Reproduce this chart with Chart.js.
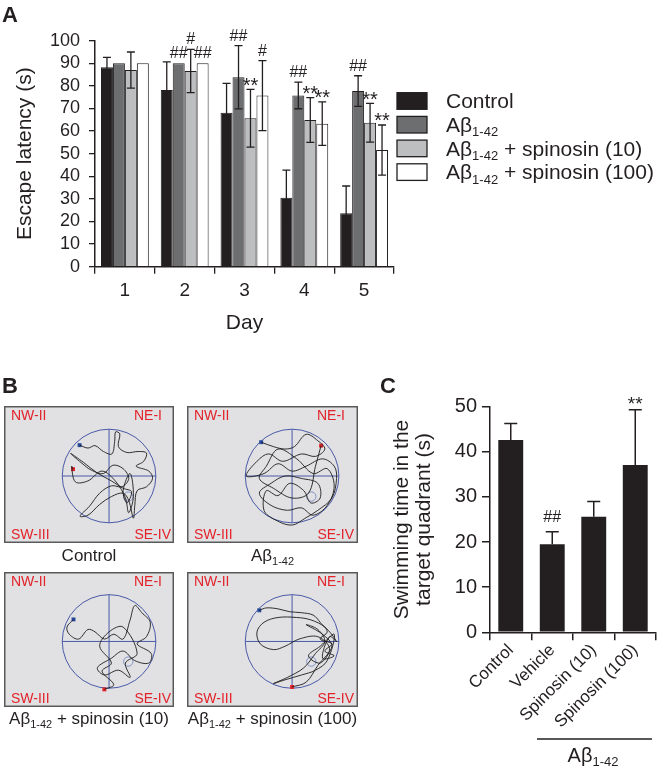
<!DOCTYPE html>
<html>
<head>
<meta charset="utf-8">
<script src="https://cdn.jsdelivr.net/npm/chart.js@4/dist/chart.umd.min.js"></script>
<style>
  body { margin: 0; background: #fff; width: 657px; height: 769px; position: relative; overflow: hidden; }
  canvas { position: absolute; display: block; }
</style>
</head>
<body>
<canvas id="chartA" width="657" height="340" style="left:0;top:0"></canvas>
<canvas id="pool0" width="178" height="198" style="left:0;top:370px"></canvas>
<canvas id="pool1" width="179" height="198" style="left:183px;top:370px"></canvas>
<canvas id="pool2" width="178" height="165" style="left:0;top:568px"></canvas>
<canvas id="pool3" width="179" height="165" style="left:183px;top:568px"></canvas>
<canvas id="chartC" width="327" height="399" style="left:330px;top:370px"></canvas>
<script>
// ========== DATA ==========
const days = ['1', '2', '3', '4', '5'];
const groupNames = ['Control', 'Aβ1-42', 'Aβ1-42 + spinosin (10)', 'Aβ1-42 + spinosin (100)'];

// panel A - escape latency (s), mean and error
const latControl = [88.2, 78.2, 68.1, 30.5, 23.6];
const latAbeta = [90, 90, 83.8, 75.8, 77.7];
const latSpin10 = [87.0, 86.6, 65.7, 64.9, 63.7];
const latSpin100 = [90, 90, 75.7, 63.3, 51.6];
const errControl = [4.4, 12.4, 13.0, 12.2, 12.1];
const errAbeta = [0, 0, 14.0, 5.9, 6.8];
const errSpin10 = [8.0, 9.6, 12.8, 9.9, 8.6];
const errSpin100 = [0, 0, 15.5, 9.6, 11.1];
const marksControl = ['', '', '', '', ''];
const marksAbeta = ['', '##', '##', '##', '##'];
const marksSpin10 = ['', '#', '**', '**', '**'];
const marksSpin100 = ['', '##', '#', '**', '**'];

// panel C - swimming time in target quadrant (s)
const quadGroups = ['Control', 'Vehicle', 'Spinosin (10)', 'Spinosin (100)'];
const quadTime = [42.6, 19.5, 25.6, 37.1];
const quadErr = [3.7, 2.8, 3.4, 12.2];
const quadMarks = ['', '##', '', '**'];

// panel B - swim paths, pool radius = 1
const trackControl = [[-0.63,0.63],[-0.45,0.57],[-0.3,0.62],[-0.12,0.5],[0.06,0.45],[0.12,0.7],[0.14,0.9],[0.23,0.86],[0.2,0.6],[0.38,0.48],[0.62,0.5],[0.8,0.47],[0.74,0.3],[0.58,0.2],[0.85,0.1],[0.93,-0.05],[0.8,-0.22],[0.6,-0.3],[0.55,-0.6],[0.52,-0.86],[0.42,-0.5],[0.3,-0.35],[0.05,-0.42],[-0.2,-0.58],[-0.45,-0.8],[-0.62,-0.82],[-0.42,-0.62],[-0.2,-0.35],[0.05,-0.2],[0.28,-0.22],[0.42,-0.05],[0.3,0.15],[0.08,0.22],[-0.12,0.05],[-0.38,0.12],[-0.58,0.26],[-0.82,0.46],[-0.55,0.28],[-0.25,0.06],[0.05,-0.1],[0.3,-0.25],[0.48,-0.32],[0.38,-0.55],[0.3,-0.3],[0.45,0.05],[0.52,-0.42],[0.42,-0.75],[0.35,-0.45],[0.15,-0.12],[-0.15,0.1],[-0.45,-0.1],[-0.72,-0.12],[-0.8,0.2],[-0.77,0.14]];
const trackAbeta = [[-0.66,0.69],[-0.4,0.6],[-0.15,0.55],[0.05,0.6],[0.3,0.85],[0.55,0.72],[0.7,0.55],[0.5,0.4],[0.2,0.45],[-0.2,0.3],[-0.5,0.45],[-0.75,0.3],[-0.98,0.0],[-0.6,0.05],[-0.3,0.25],[0.0,0.1],[0.3,0.2],[0.65,0.35],[0.9,0.2],[0.95,-0.05],[0.85,-0.45],[0.55,-0.7],[0.3,-0.85],[0.0,-1.0],[-0.35,-0.9],[-0.6,-0.7],[-0.55,-0.3],[-0.3,-0.4],[-0.05,-0.15],[0.25,-0.3],[0.4,-0.55],[0.6,-0.45],[0.55,-0.15],[0.2,-0.05],[-0.15,0.0],[-0.45,-0.15],[-0.7,-0.35],[-0.45,-0.6],[-0.1,-0.7],[0.2,-0.65],[0.45,-0.8],[0.75,-0.6],[0.9,-0.2],[0.75,0.15],[0.45,0.05],[0.1,0.35],[-0.3,0.55],[-0.55,0.2],[-0.7,-0.05],[-0.4,-0.25],[0.0,-0.45],[0.35,-0.35],[0.5,0.2],[0.62,0.62]];
const trackSpin10 = [[-0.76,0.46],[-0.9,0.3],[-0.85,0.15],[-0.65,0.05],[-0.45,0.25],[-0.3,0.2],[-0.1,0.05],[0.1,0.15],[0.3,0.05],[0.45,0.45],[0.55,0.75],[0.7,0.6],[0.88,0.4],[0.8,0.1],[0.6,-0.05],[0.9,-0.25],[0.85,-0.45],[0.55,-0.4],[0.3,-0.2],[0.05,-0.35],[-0.25,-0.55],[-0.1,-0.7],[0.2,-0.6],[0.45,-0.75],[0.35,-0.45],[0.6,-0.25],[0.3,0.3],[0.0,0.2],[-0.2,-0.1],[0.05,-0.45],[-0.15,-0.62],[0.1,-0.9],[-0.1,-1.0]];
const trackSpin100 = [[-0.7,0.65],[-0.55,0.7],[-0.3,0.68],[-0.05,0.62],[0.2,0.6],[0.45,0.55],[0.6,0.4],[0.75,0.2],[0.6,0.05],[0.85,-0.05],[0.7,-0.2],[0.9,-0.3],[0.65,-0.35],[0.8,0.1],[0.95,0.0],[0.7,0.3],[0.4,0.45],[0.1,0.5],[-0.3,0.5],[-0.6,0.4],[-0.75,0.2],[-0.68,-0.05],[-0.4,-0.17],[-0.15,-0.1],[0.15,0.05],[0.55,0.1],[0.8,-0.15],[0.6,-0.45],[0.35,-0.3],[0.6,-0.1],[0.9,0.15],[0.75,-0.4],[0.5,-0.6],[0.2,-0.7],[-0.15,-0.8],[-0.4,-0.88],[-0.1,-0.75],[0.25,-0.55],[0.5,-0.25],[0.7,0.0],[0.55,0.25],[0.3,0.35],[0.65,0.15],[0.85,-0.1],[0.55,-0.5],[0.3,-0.85],[0.0,-0.95]];
const startPoints = [[-0.63,0.63],[-0.66,0.69],[-0.76,0.46],[-0.7,0.65]];
const endPoints = [[-0.77,0.14],[0.62,0.62],[-0.1,-1.0],[0.0,-0.95]];
const platform = [0.41, -0.42];

// ========== STYLE ==========
const FONT = '"Liberation Sans", Arial, Helvetica, sans-serif';
const INK = '#231f20';
const barColors = ['#231f20', '#6d6e70', '#bcbec0', '#ffffff'];
Chart.defaults.font.family = FONT;
Chart.defaults.color = INK;

// text with subscript "1-42"
function drawSubLabel(ctx, text, x, y, size, align) {
    const idx = text.indexOf('1-42');
    const subSize = Math.round(size * 0.63);
    ctx.textBaseline = 'alphabetic';
    ctx.textAlign = 'left';
    if (idx < 0) {
        ctx.font = size + 'px ' + FONT;
        const w = ctx.measureText(text).width;
        ctx.fillText(text, align === 'center' ? x - w / 2 : x, y);
        return;
    }
    const pre = text.slice(0, idx), sub = '1-42', post = text.slice(idx + 4);
    ctx.font = size + 'px ' + FONT;
    const w1 = ctx.measureText(pre).width, w3 = ctx.measureText(post).width;
    ctx.font = subSize + 'px ' + FONT;
    const w2 = ctx.measureText(sub).width;
    let sx = align === 'center' ? x - (w1 + w2 + w3) / 2 : x;
    ctx.font = size + 'px ' + FONT;
    ctx.fillText(pre, sx, y);
    ctx.font = subSize + 'px ' + FONT;
    ctx.fillText(sub, sx + w1, y + size * 0.21);
    ctx.font = size + 'px ' + FONT;
    ctx.fillText(post, sx + w1 + w2, y);
}

// ========== PLUGINS ==========
const errorBarPlugin = {
    id: 'errorBars',
    afterDatasetsDraw(chart, args, opts) {
        const ctx = chart.ctx;
        const yScale = chart.scales.y;
        ctx.save();
        chart.data.datasets.forEach((ds, i) => {
            const meta = chart.getDatasetMeta(i);
            meta.data.forEach((bar, j) => {
                const v = ds.data[j], e = ds.errors[j];
                let top = yScale.getPixelForValue(v);
                if (e) {
                    top = yScale.getPixelForValue(v + e);
                    const bot = yScale.getPixelForValue(opts.upperOnly ? v : v - e);
                    ctx.strokeStyle = INK;
                    ctx.lineWidth = opts.lineWidth;
                    ctx.beginPath();
                    ctx.moveTo(bar.x, top); ctx.lineTo(bar.x, bot);
                    ctx.moveTo(bar.x - opts.cap, top); ctx.lineTo(bar.x + opts.cap, top);
                    if (!opts.upperOnly) { ctx.moveTo(bar.x - opts.cap, bot); ctx.lineTo(bar.x + opts.cap, bot); }
                    ctx.stroke();
                }
                const m = ds.marks[j];
                if (!m) return;
                ctx.fillStyle = INK;
                ctx.textAlign = 'center';
                ctx.textBaseline = 'alphabetic';
                if (m.includes('#')) {
                    ctx.font = opts.hashSize + 'px ' + FONT;
                    ctx.fillText(m, bar.x, top - opts.hashGap);
                } else {
                    ctx.font = opts.starSize + 'px ' + FONT;
                    ctx.fillText(m, bar.x, top + opts.starShift);
                }
            });
        });
        ctx.restore();
    }
};

const panelLetterPlugin = {
    id: 'panelLetter',
    afterDraw(chart, args, opts) {
        if (!opts.text) return;
        const ctx = chart.ctx;
        ctx.save();
        ctx.fillStyle = INK;
        ctx.font = 'bold 22px ' + FONT;
        ctx.textAlign = 'left';
        ctx.textBaseline = 'alphabetic';
        ctx.fillText(opts.text, opts.x, opts.y);
        ctx.restore();
    }
};

const sideLegendPlugin = {
    id: 'sideLegend',
    afterDraw(chart) {
        const ctx = chart.ctx;
        ctx.save();
        chart.data.datasets.forEach((ds, i) => {
            const cy = 101 + i * 23.7;
            ctx.fillStyle = ds.backgroundColor;
            ctx.fillRect(397, cy - 8.3, 30, 16.6);
            ctx.strokeStyle = INK;
            ctx.lineWidth = 1.3;
            ctx.strokeRect(397, cy - 8.3, 30, 16.6);
            ctx.fillStyle = INK;
            drawSubLabel(ctx, ds.label, 446, cy + 7.3, 21, 'left');
        });
        ctx.restore();
    }
};

const groupLabelPlugin = {
    id: 'groupLabel',
    afterDraw(chart) {
        const ctx = chart.ctx;
        ctx.save();
        ctx.strokeStyle = INK;
        ctx.lineWidth = 1.5;
        ctx.beginPath();
        ctx.moveTo(207, 369); ctx.lineTo(322, 369);
        ctx.stroke();
        ctx.fillStyle = INK;
        drawSubLabel(ctx, 'Aβ1-42', 263, 392, 20, 'center');
        ctx.restore();
    }
};

const poolPlugin = {
    id: 'pool',
    beforeDatasetsDraw(chart, args, opts) {
        const ctx = chart.ctx;
        const a = chart.chartArea;
        const xs = chart.scales.x, ys = chart.scales.y;
        const cx = xs.getPixelForValue(0), cy = ys.getPixelForValue(0);
        const r = xs.getPixelForValue(1) - cx;
        ctx.save();
        ctx.fillStyle = '#e1e1e3';
        ctx.fillRect(a.left, a.top, a.right - a.left, a.bottom - a.top);
        ctx.strokeStyle = '#5a5a5a';
        ctx.lineWidth = 1.5;
        ctx.strokeRect(a.left + 0.75, a.top + 0.75, a.right - a.left - 1.5, a.bottom - a.top - 1.5);
        ctx.strokeStyle = '#4a5aa8';
        ctx.lineWidth = 1;
        ctx.beginPath();
        ctx.arc(cx, cy, r, 0, Math.PI * 2);
        ctx.moveTo(cx - r, cy); ctx.lineTo(cx + r, cy);
        ctx.moveTo(cx, cy - r); ctx.lineTo(cx, cy + r);
        ctx.stroke();
        ctx.strokeStyle = '#8492c8';
        ctx.beginPath();
        ctx.arc(xs.getPixelForValue(platform[0]), ys.getPixelForValue(platform[1]), r * 0.1, 0, Math.PI * 2);
        ctx.stroke();
        // quadrant names
        ctx.fillStyle = '#e3222a';
        ctx.font = '14px ' + FONT;
        ctx.textBaseline = 'alphabetic';
        ctx.textAlign = 'left';
        ctx.fillText('NW-II', a.left + 7, a.top + 14);
        ctx.fillText('SW-III', a.left + 7, a.bottom - 4);
        ctx.textAlign = 'right';
        ctx.fillText('NE-I', a.left + 158, a.top + 14);
        ctx.fillText('SE-IV', a.left + 167, a.bottom - 4);
        ctx.restore();
    },
    afterDraw(chart, args, opts) {
        const ctx = chart.ctx;
        ctx.save();
        ctx.fillStyle = INK;
        drawSubLabel(ctx, opts.caption, chart.width / 2, chart.chartArea.bottom + opts.captionGap, 17, 'center');
        ctx.restore();
    }
};

// ========== PANEL A ==========
const latSeries = [latControl, latAbeta, latSpin10, latSpin100];
const errSeries = [errControl, errAbeta, errSpin10, errSpin100];
const markSeries = [marksControl, marksAbeta, marksSpin10, marksSpin100];

new Chart(document.getElementById('chartA'), {
    type: 'bar',
    data: {
        labels: days,
        datasets: groupNames.map((name, i) => ({
            label: name,
            data: latSeries[i],
            errors: errSeries[i],
            marks: markSeries[i],
            backgroundColor: barColors[i],
            borderColor: INK,
            borderWidth: 1,
            categoryPercentage: 0.8,
            barPercentage: 1
        }))
    },
    options: {
        responsive: false,
        animation: false,
        devicePixelRatio: 1,
        layout: { padding: { top: 40.7, right: 263, left: 0, bottom: 0 } },
        plugins: {
            legend: { display: false },
            tooltip: { enabled: false },
            errorBars: { lineWidth: 1.3, cap: 4, hashSize: 16, hashGap: 5, starSize: 20, starShift: 2.5 },
            panelLetter: { text: 'A', x: 2, y: 22 }
        },
        scales: {
            x: {
                grid: { drawOnChartArea: false, tickLength: 7, color: INK, lineWidth: 1.3, offset: true },
                border: { display: true, color: INK, width: 1.5 },
                ticks: { font: { size: 19 }, color: INK, padding: 6 },
                title: { display: true, text: 'Day', font: { size: 21 }, color: INK, padding: { top: 0, bottom: 4 } },
                afterFit: s => { s.height = 73.3; }
            },
            y: {
                min: 0,
                max: 100,
                grid: { drawOnChartArea: false, tickLength: 6, color: INK, lineWidth: 1.3 },
                border: { display: true, color: INK, width: 1.5 },
                ticks: { stepSize: 10, autoSkip: false, font: { size: 18 }, color: INK, padding: 9 },
                title: { display: true, text: 'Escape latency (s)', font: { size: 21 }, color: INK, padding: { top: 13, bottom: 0 } },
                afterFit: s => { s.width = 95; }
            }
        }
    },
    plugins: [errorBarPlugin, sideLegendPlugin, panelLetterPlugin]
});

// ========== PANEL B ==========
const tracks = [trackControl, trackAbeta, trackSpin10, trackSpin100];
const poolSetups = [
    { xmin: -110 / 49, xmax: 68 / 49, ymin: -67 / 49, ymax: 70 / 49, pad: { top: 36, bottom: 25 }, gap: 18, letter: 'B' },
    { xmin: -110 / 49, xmax: 69 / 49, ymin: -67 / 49, ymax: 70 / 49, pad: { top: 36, bottom: 25 }, gap: 18, letter: '' },
    { xmin: -110 / 49, xmax: 68 / 49, ymin: -67 / 49, ymax: 71 / 49, pad: { top: 1, bottom: 26 }, gap: 17, letter: '' },
    { xmin: -110 / 49, xmax: 69 / 49, ymin: -67 / 49, ymax: 71 / 49, pad: { top: 1, bottom: 26 }, gap: 17, letter: '' }
];
const toXY = p => ({ x: p[0], y: p[1] });

tracks.forEach((track, i) => {
    const s = poolSetups[i];
    new Chart(document.getElementById('pool' + i), {
        type: 'scatter',
        data: {
            datasets: [
                { data: track.map(toXY), showLine: true, pointRadius: 0, borderColor: '#1c1c1c', borderWidth: 0.9, tension: 0.35 },
                { data: [toXY(startPoints[i])], pointStyle: 'rect', pointRadius: 2.8, backgroundColor: '#2a4c9c', borderWidth: 0 },
                { data: [toXY(endPoints[i])], pointStyle: 'rect', pointRadius: 2.8, backgroundColor: '#e3222a', borderWidth: 0 }
            ]
        },
        options: {
            responsive: false,
            animation: false,
            devicePixelRatio: 1,
            layout: { padding: { top: s.pad.top, bottom: s.pad.bottom, left: 0, right: 0 } },
            plugins: {
                legend: { display: false },
                tooltip: { enabled: false },
                pool: { caption: groupNames[i], captionGap: s.gap },
                panelLetter: { text: s.letter, x: 2, y: 23 }
            },
            scales: {
                x: { type: 'linear', min: s.xmin, max: s.xmax, display: false },
                y: { type: 'linear', min: s.ymin, max: s.ymax, display: false }
            }
        },
        plugins: [poolPlugin, panelLetterPlugin]
    });
});

// ========== PANEL C ==========
new Chart(document.getElementById('chartC'), {
    type: 'bar',
    data: {
        labels: quadGroups,
        datasets: [{
            data: quadTime,
            errors: quadErr,
            marks: quadMarks,
            backgroundColor: INK,
            borderWidth: 0,
            categoryPercentage: 0.6,
            barPercentage: 1
        }]
    },
    options: {
        responsive: false,
        animation: false,
        devicePixelRatio: 1,
        layout: { padding: { top: 36.7, right: 1, left: 0, bottom: 0 } },
        plugins: {
            legend: { display: false },
            tooltip: { enabled: false },
            errorBars: { lineWidth: 1.5, cap: 6.5, upperOnly: true, hashSize: 16, hashGap: 10, starSize: 19, starShift: 0 },
            panelLetter: { text: 'C', x: 50, y: 23 }
        },
        scales: {
            x: {
                grid: { drawOnChartArea: false, tickLength: 8, color: INK, lineWidth: 1.5, offset: true },
                border: { display: true, color: INK, width: 1.5 },
                ticks: { font: { size: 17 }, color: INK, padding: 0, minRotation: 45, maxRotation: 45, autoSkip: false },
                afterFit: s => { s.height = 136.7; }
            },
            y: {
                min: 0,
                max: 50,
                grid: { drawOnChartArea: false, tickLength: 8, color: INK, lineWidth: 1.5 },
                border: { display: true, color: INK, width: 1.5 },
                ticks: { stepSize: 10, autoSkip: false, font: { size: 20 }, color: INK, padding: 5 },
                title: {
                    display: true,
                    text: ['Swimming time in the', 'target quadrant (s)'],
                    font: { size: 21, lineHeight: 1.05 },
                    color: INK,
                    padding: { top: 61, bottom: 0 }
                },
                afterFit: s => { s.width = 160; }
            }
        }
    },
    plugins: [errorBarPlugin, groupLabelPlugin, panelLetterPlugin]
});
</script>
</body>
</html>
